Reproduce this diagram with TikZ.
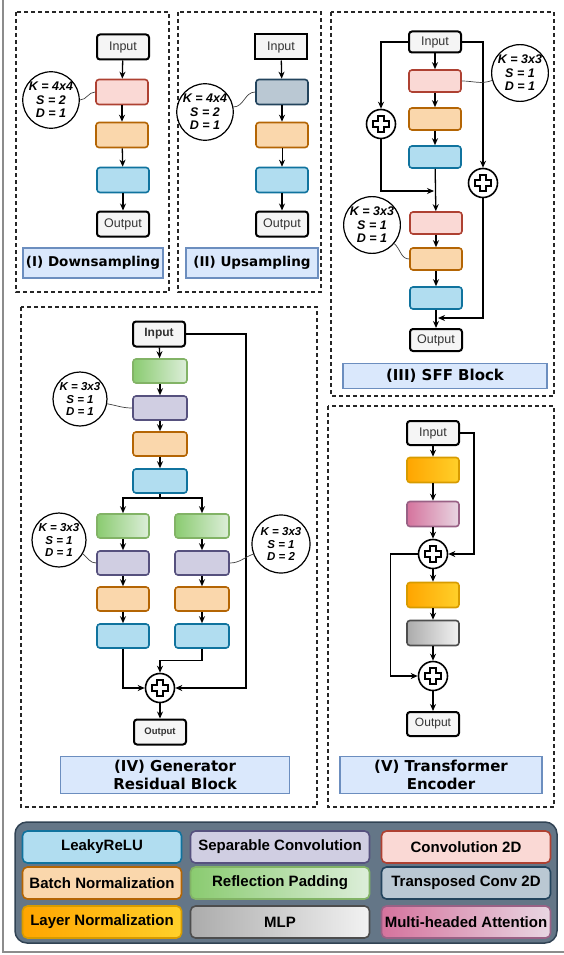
\documentclass[tikz,border=0pt]{standalone}
\usepackage{fontspec}
\setmainfont{Liberation Sans}
\newfontfamily\lblfont{DejaVu Sans}
\usetikzlibrary{arrows.meta}

\definecolor{lrfill}{HTML}{B1DDF0}\definecolor{lrdraw}{HTML}{10739E}
\definecolor{spfill}{HTML}{D0CEE2}\definecolor{spdraw}{HTML}{56517E}
\definecolor{cvfill}{HTML}{FAD9D5}\definecolor{cvdraw}{HTML}{AE4132}
\definecolor{bnfill}{HTML}{FAD7AC}\definecolor{bndraw}{HTML}{B46504}
\definecolor{rpleft}{HTML}{8ACB70}\definecolor{rpright}{HTML}{DDEEDA}\definecolor{rpdraw}{HTML}{82B366}
\definecolor{tcfill}{HTML}{BAC8D3}\definecolor{tcdraw}{HTML}{23445D}
\definecolor{lnleft}{HTML}{FFA500}\definecolor{lnright}{HTML}{FFD02A}\definecolor{lndraw}{HTML}{D79B00}
\definecolor{mlleft}{HTML}{ABABAB}\definecolor{mlright}{HTML}{F2F2F2}\definecolor{mldraw}{HTML}{4D4D4D}
\definecolor{maleft}{HTML}{D5739D}\definecolor{maright}{HTML}{E8D6E2}\definecolor{madraw}{HTML}{996185}
\definecolor{lblfill}{HTML}{DAE8FC}\definecolor{lbldraw}{HTML}{6C8EBF}
\definecolor{legfill}{HTML}{647687}\definecolor{legdraw}{HTML}{314354}
\definecolor{iotext}{HTML}{333333}

\tikzset{
	blk/.style={rounded corners=3pt, line width=1.6pt, minimum width=52pt, minimum height=25pt, inner sep=0pt},
	lrelu/.style={blk, fill=lrfill, draw=lrdraw},
	sepc/.style={blk, fill=spfill, draw=spdraw},
	conv/.style={blk, fill=cvfill, draw=cvdraw},
	bnorm/.style={blk, fill=bnfill, draw=bndraw},
	rpad/.style={blk, left color=rpleft, right color=rpright, draw=rpdraw},
	tconv/.style={blk, fill=tcfill, draw=tcdraw},
	lnorm/.style={blk, left color=lnleft, right color=lnright, draw=lndraw},
	mlp/.style={blk, left color=mlleft, right color=mlright, draw=mldraw},
	mha/.style={blk, left color=maleft, right color=maright, draw=madraw},
	iobox/.style={blk, line width=2pt, fill=black!4, draw=black, text=iotext, font=\fontsize{12.5}{14}\selectfont},
	anno/.style={circle, draw, line width=1.2pt, fill=white, inner sep=0pt, align=center, font=\bfseries\itshape\fontsize{12.5}{13.5}\selectfont},
	addn/.style={circle, draw, line width=1.6pt, fill=white, minimum size=29pt, inner sep=0pt,
		path picture={\draw[line width=1.3pt, shift={(path picture bounding box.center)}]
			(-3,-8) -- (3,-8) -- (3,-3) -- (8,-3) -- (8,3) -- (3,3) -- (3,8) -- (-3,8) -- (-3,3) -- (-8,3) -- (-8,-3) -- (-3,-3) -- cycle;}},
	lbl/.style={draw=lbldraw, fill=lblfill, line width=1.2pt, inner sep=0pt, align=center, font=\lblfont\bfseries\fontsize{15}{18}\selectfont},
	frame/.style={draw=black!85, line width=1.2pt, dash pattern=on 4pt off 3pt},
	arr/.style={-{Stealth[length=7pt,width=6pt]}, line width=1.3pt},
	wire/.style={line width=0.7pt, black!75},
	legitem/.style={rounded corners=5pt, line width=1.6pt, minimum height=32pt, inner sep=0pt, font=\bfseries\fontsize{15}{17}\selectfont}
}

\begin{document}
\begin{tikzpicture}[x=1pt,y=-1pt]
	\useasboundingbox (0,0) rectangle (564,955);
	\draw[black!45, line width=1.2pt] (3,0) -- (3,952) -- (564,952);

	% panel frames
	\draw[frame] (16,12) rectangle (169,292);
	\draw[frame] (178,12) rectangle (321,292);
	\draw[frame] (331,12) rectangle (554,396);
	\draw[frame] (21,307) rectangle (317,807);
	\draw[frame] (328,406) rectangle (554,807);

	% (I) downsampling
	\node[iobox] (d1) at (123,47) {Input};
	\node[conv] (d2) at (122,92) {};
	\node[bnorm] (d3) at (122,135) {};
	\node[lrelu] (d4) at (123,180) {};
	\node[iobox] (d5) at (123,224) {Output};
	\node[anno, minimum size=56pt] (k1) at (51,100) {K = 4x4\\S = 2\\D = 1};
	\node[lbl, minimum width=140pt, minimum height=30pt, font=\lblfont\bfseries\fontsize{13.5}{16}\selectfont] (l1) at (93,263) {(I) Downsampling};

	\draw[arr] (d1) to (d2);
	\draw[arr] (d2) to (d3);
	\draw[arr] (d3) to (d4);
	\draw[arr] (d4) to (d5);
	\draw[wire] (k1.east) to[out=0,in=180] (d2.west);

	% (II) upsampling
	\node[iobox, rounded corners=0pt] (u1) at (281,47) {Input};
	\node[tconv] (u2) at (282,92) {};
	\node[bnorm] (u3) at (282,135) {};
	\node[lrelu] (u4) at (282,180) {};
	\node[iobox] (u5) at (282,224) {Output};
	\node[anno, minimum size=54pt] (k2) at (205,112) {K = 4x4\\S = 2\\D = 1};
	\node[lbl, minimum width=132pt, minimum height=30pt, font=\lblfont\bfseries\fontsize{13.5}{16}\selectfont] (l2) at (252,263) {(II) Upsampling};

	\draw[arr] (u1) to (u2);
	\draw[arr] (u2) to (u3);
	\draw[arr, line width=0.7pt] (u3) to (u4);
	\draw[arr] (u4) to (u5);
	\draw[wire] (k2.10) to[out=0,in=180] (u2.west);

	% (III) SFF block
	\node[iobox, minimum height=21pt] (s1) at (435,42) {Input};
	\node[conv, minimum height=22pt] (s2) at (435,81) {};
	\node[bnorm, minimum height=22pt] (s3) at (435,119) {};
	\node[lrelu, minimum height=22pt] (s4) at (435,157) {};
	\node[conv, minimum height=22pt] (s5) at (436,223) {};
	\node[bnorm, minimum height=22pt] (s6) at (436,259) {};
	\node[lrelu, minimum height=22pt] (s7) at (436,298) {};
	\node[iobox, minimum height=22pt] (s8) at (436,340) {Output};
	\node[addn] (p1) at (381,124) {};
	\node[addn] (p2) at (483,183) {};
	\node[anno, minimum size=52pt] (k3) at (520,73) {K = 3x3\\S = 1\\D = 1};
	\node[anno, minimum size=50pt] (k4) at (372,225) {K = 3x3\\S = 1\\D = 1};
	\node[lbl, minimum width=204pt, minimum height=25pt] (l3) at (445,376) {(III) SFF Block};
	\coordinate (j1) at (434,191);
	\coordinate (j2) at (438,318);

	\draw[arr] (s1) to (s2);
	\draw[arr] (s2) to (s3);
	\draw[arr] (s3) to (s4);
	\draw[arr] (s4) to (s5);
	\draw[arr] (s5) to (s6);
	\draw[arr] (s6) to (s7);
	\draw[arr] (s7) to (s8);
	\draw[arr] (s1.west) -| (p1.north);
	\draw[arr] (p1.south) |- (j1);
	\draw[arr] (s1.east) -| (p2.north);
	\draw[arr] (p2.south) |- (j2);
	\draw[wire] (s2.east) to[out=0,in=200] (k3.195);
	\draw[wire] (k4.-40) to[out=-40,in=180] (s6.west);

	% (IV) generator residual block
	\node[iobox, font=\bfseries\fontsize{12}{14}\selectfont] (g1) at (159,334) {Input};
	\node[rpad, minimum width=54pt, minimum height=24pt] (g2) at (160,371) {};
	\node[sepc, minimum width=54pt, minimum height=24pt] (g3) at (160,408) {};
	\node[bnorm, minimum width=54pt, minimum height=24pt] (g4) at (160,444) {};
	\node[lrelu, minimum width=54pt, minimum height=24pt] (g5) at (160,481) {};
	\node[rpad, minimum height=24pt] (g6) at (123,526) {};
	\node[rpad, minimum width=54pt, minimum height=24pt] (g7) at (202,526) {};
	\node[sepc, minimum height=24pt] (g8) at (123,563) {};
	\node[sepc, minimum width=54pt, minimum height=24pt] (g9) at (202,563) {};
	\node[bnorm, minimum height=24pt] (g10) at (123,599) {};
	\node[bnorm, minimum width=54pt, minimum height=24pt] (g11) at (202,599) {};
	\node[lrelu, minimum height=24pt] (g12) at (123,636) {};
	\node[lrelu, minimum width=54pt, minimum height=24pt] (g13) at (202,636) {};
	\node[addn] (p3) at (160,688) {};
	\node[iobox, font=\bfseries\fontsize{9.5}{11}\selectfont] (g14) at (160,732) {Output};
	\node[anno, minimum size=54pt, font=\bfseries\itshape\fontsize{11.5}{12.5}\selectfont] (k5) at (80,399) {K = 3x3\\S = 1\\D = 1};
	\node[anno, minimum size=54pt, font=\bfseries\itshape\fontsize{11.5}{12.5}\selectfont] (k6) at (59,540) {K = 3x3\\S = 1\\D = 1};
	\node[anno, minimum size=58pt, font=\bfseries\itshape\fontsize{11.5}{12.5}\selectfont] (k7) at (281,544) {K = 3x3\\S = 1\\D = 2};
	\node[lbl, minimum width=229pt, minimum height=37pt] (l4) at (175,775) {(IV) Generator\\Residual Block};
	\coordinate (b1) at (160,498);

	\draw[arr] (g1) to (g2);
	\draw[arr] (g2) to (g3);
	\draw[arr] (g3) to (g4);
	\draw[arr] (g4) to (g5);
	\draw[line width=1.3pt] (g5.south) -- (b1);
	\draw[arr] (b1) -| (g6.north);
	\draw[arr] (b1) -| (g7.north);
	\draw[arr] (g6) to (g8);
	\draw[arr] (g8) to (g10);
	\draw[arr] (g10) to (g12);
	\draw[arr] (g7) to (g9);
	\draw[arr] (g9) to (g11);
	\draw[arr] (g11) to (g13);
	\draw[arr] (g12.south) |- (p3.west);
	\draw[arr] (g13.south) -- ++(0,12) -| (p3.north);
	\draw[arr] (g1.east) -- ++(60,0) |- (p3.east);
	\draw[arr] (p3) to (g14);
	\draw[wire] (k5.-10) to[out=-10,in=180] (g3.west);
	\draw[wire] (k6.-30) to[out=-40,in=180] (g8.west);
	\draw[wire] (g9.east) to[out=0,in=200] (k7.200);

	% (V) transformer encoder
	\node[iobox, minimum height=24pt] (t1) at (433,433) {Input};
	\node[lnorm] (t2) at (433,470) {};
	\node[mha] (t3) at (433,514) {};
	\node[addn] (p4) at (433,554) {};
	\node[lnorm] (t4) at (433,595) {};
	\node[mlp] (t5) at (433,633) {};
	\node[addn] (p5) at (433,676) {};
	\node[iobox, minimum height=24pt, font=\fontsize{12}{14}\selectfont] (t6) at (433,724) {Output};
	\node[lbl, minimum width=202pt, minimum height=37pt] (l5) at (441,775) {(V) Transformer\\Encoder};

	\draw[arr] (t1) to (t2);
	\draw[arr] (t2) to (t3);
	\draw[arr] (t3) to (p4);
	\draw[arr] (p4) to (t4);
	\draw[arr] (t4) to (t5);
	\draw[arr] (t5) to (p5);
	\draw[arr] (p5) to (t6);
	\draw[arr] (t1.east) -- ++(14,0) |- (p4.east);
	\draw[arr] (p4.west) -- ++(-27,0) |- (p5.west);

	% legend
	\draw[fill=legfill, draw=legdraw, line width=1.5pt, rounded corners=12pt] (15,822) rectangle (557,943);
	\node[legitem, fill=lrfill, draw=lrdraw, minimum width=159pt] (e1) at (102,847) {LeakyReLU};
	\node[legitem, fill=spfill, draw=spdraw, minimum width=179pt] (e2) at (280,847) {Separable Convolution};
	\node[legitem, fill=cvfill, draw=cvdraw, minimum width=169pt] (e3) at (466,847) {Convolution 2D};
	\node[legitem, fill=bnfill, draw=bndraw, minimum width=159pt] (e4) at (102,883) {Batch Normalization};
	\node[legitem, left color=rpleft, right color=rpright, draw=rpdraw, minimum width=179pt] (e5) at (280,883) {Reflection Padding};
	\node[legitem, fill=tcfill, draw=tcdraw, minimum width=169pt] (e6) at (466,883) {Transposed Conv 2D};
	\node[legitem, left color=lnleft, right color=lnright, draw=lndraw, minimum width=159pt] (e7) at (102,922) {Layer Normalization};
	\node[legitem, left color=mlleft, right color=mlright, draw=mldraw, minimum width=179pt] (e8) at (280,922) {MLP};
	\node[legitem, left color=maleft, right color=maright, draw=madraw, minimum width=169pt] (e9) at (466,922) {Multi-headed Attention};

\end{tikzpicture}
\end{document}
